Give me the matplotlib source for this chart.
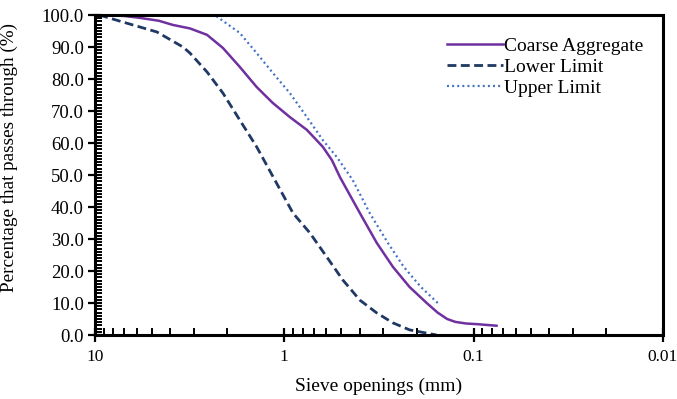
import numpy as np
import matplotlib
matplotlib.use("Agg")
import matplotlib.pyplot as plt
import matplotlib.ticker as mt

plt.rcParams['font.family'] = ['Liberation Serif', 'DejaVu Serif']

# values (sieve size in mm, % passing)
coarse_x = [9.5, 7.0, 5.79, 4.6, 3.88, 3.15, 2.56, 2.11, 1.72, 1.40, 1.15,
            0.935, 0.760, 0.626, 0.56, 0.509, 0.399, 0.325, 0.267, 0.218,
            0.177, 0.155, 0.138, 0.125, 0.11, 0.0965, 0.0757]
coarse_y = [100.0, 99.7, 99.1, 98.2, 96.9, 95.8, 93.8, 89.7, 83.8, 77.5, 72.5,
            68.1, 64.1, 58.8, 54.6, 49.4, 38.1, 28.8, 21.3, 15.0,
            10.0, 7.0, 5.0, 4.1, 3.6, 3.4, 2.9]

lower_x = [9.5, 7.12, 4.71, 3.43, 3.15, 2.56, 2.11, 1.72, 1.40, 1.10, 0.90,
           0.733, 0.597, 0.491, 0.399, 0.325, 0.267, 0.218, 0.157]
lower_y = [100.0, 97.8, 94.7, 90.0, 88.1, 82.2, 75.6, 67.2, 58.8, 47.5, 38.1,
           31.9, 24.4, 17.2, 10.9, 6.9, 3.8, 1.6, 0.0]

upper_x = [9.5, 2.33, 1.72, 1.40, 1.15, 0.935, 0.760, 0.626, 0.528, 0.435,
           0.354, 0.284, 0.234, 0.190, 0.151]
upper_y = [100.0, 100.0, 94.4, 88.1, 81.9, 75.6, 68.1, 60.9, 55.6, 48.4,
           38.1, 28.8, 21.3, 15.0, 9.4]

fig = plt.figure(figsize=(6.77, 3.99), dpi=100)
ax = fig.add_axes([0.1403, 0.1604, 0.8390, 0.802])

ax.plot(coarse_x, coarse_y, color='#7030A0', lw=1.8, label='Coarse Aggregate')
ax.plot(lower_x, lower_y, color='#1F3864', lw=2.0, ls=(0, (3.2, 1.6)), label='Lower Limit')
ax.plot(upper_x, upper_y, color='#4472C4', lw=1.6, ls=(0, (0.9, 1.4)), label='Upper Limit')

ax.set_xscale('log')
ax.set_xlim(10, 0.01)
ax.set_ylim(0, 100)

ax.xaxis.set_major_locator(mt.FixedLocator([10, 1, 0.1, 0.01]))
ax.xaxis.set_major_formatter(mt.FixedFormatter(['10', '1', '0.1', '0.01']))
ax.xaxis.set_minor_locator(mt.LogLocator(base=10, subs=np.arange(2, 10)))
ax.xaxis.set_minor_formatter(mt.NullFormatter())
ax.yaxis.set_major_locator(mt.MultipleLocator(10))
ax.yaxis.set_minor_locator(mt.MultipleLocator(1))
ax.yaxis.set_major_formatter(mt.FormatStrFormatter('%.1f'))

ax.tick_params(which='major', direction='inout', length=10, width=1.6,
               labelsize=13.5, colors='black', pad=3)
ax.tick_params(which='minor', direction='in', length=5, width=1.4)
ax.tick_params(axis='x', which='major', pad=5, labelsize=12.5)

for s in ax.spines.values():
    s.set_linewidth(2.2)
    s.set_color('black')

ax.set_xlabel('Sieve openings (mm)', fontsize=14, labelpad=9)
ax.set_ylabel('Percentage that passes through (%)', fontsize=13.8)
ax.yaxis.set_label_coords(-0.136, 0.555)

ax.legend(loc='upper left', bbox_to_anchor=(0.62, 0.93), frameon=False,
          fontsize=14, handlelength=2.85, handletextpad=0.05, labelspacing=0.17,
          borderaxespad=0, borderpad=0)

fig.savefig('out.png', dpi=100)
